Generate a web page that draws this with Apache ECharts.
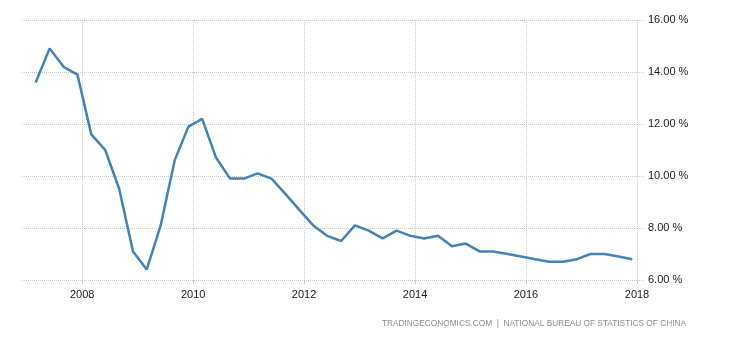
<!DOCTYPE html>
<html>
<head>
<meta charset="utf-8">
<style>
  html, body { margin: 0; padding: 0; background: #fff; }
  #chart { width: 730px; height: 340px; }
</style>
<script src="https://cdn.jsdelivr.net/npm/echarts@6/dist/echarts.min.js"></script>
</head>
<body>
<div id="chart"></div>
<script>
// China GDP annual growth rate, quarterly readings (percent)
const quarters = [
  '2007Q1','2007Q2','2007Q3','2007Q4',
  '2008Q1','2008Q2','2008Q3','2008Q4',
  '2009Q1','2009Q2','2009Q3','2009Q4',
  '2010Q1','2010Q2','2010Q3','2010Q4',
  '2011Q1','2011Q2','2011Q3','2011Q4',
  '2012Q1','2012Q2','2012Q3','2012Q4',
  '2013Q1','2013Q2','2013Q3','2013Q4',
  '2014Q1','2014Q2','2014Q3','2014Q4',
  '2015Q1','2015Q2','2015Q3','2015Q4',
  '2016Q1','2016Q2','2016Q3','2016Q4',
  '2017Q1','2017Q2','2017Q3','2017Q4'
];
const gdpGrowth = [
  13.6, 14.9, 14.2, 13.9,
  11.6, 11.0, 9.5, 7.1,
  6.4, 8.1, 10.6, 11.9,
  12.2, 10.7, 9.9, 9.9,
  10.1, 9.9, 9.3, 8.7,
  8.1, 7.7, 7.5, 8.1,
  7.9, 7.6, 7.9, 7.7,
  7.6, 7.7, 7.3, 7.4,
  7.1, 7.1, 7.0, 6.9,
  6.8, 6.7, 6.7, 6.8,
  7.0, 7.0, 6.9, 6.8
];
const yearTicks = [2008, 2010, 2012, 2014, 2016, 2018];
const yTicks = { min: 6, max: 16, step: 2 };
const sourceText = 'TRADINGECONOMICS.COM  |  NATIONAL BUREAU OF STATISTICS OF CHINA';

// each quarter is plotted on the first day of its last month (UTC timestamps)
function quarterDate(q) {
  const y = parseInt(q.slice(0, 4), 10);
  const n = parseInt(q.slice(5), 10);
  return Date.UTC(y, n * 3 - 1, 1);
}
const seriesData = quarters.map((q, i) => [quarterDate(q), gdpGrowth[i]]);
const yearStamps = yearTicks.map(y => Date.UTC(y, 0, 1));

const gridColor = '#c9c9c9';
const labelFont = 'Liberation Sans, Arial, sans-serif';
const chart = echarts.init(document.getElementById('chart'), null, { renderer: 'canvas' });
chart.setOption({
  animation: false,
  backgroundColor: '#ffffff',
  grid: { left: 22, right: 93, top: 20, bottom: 60, containLabel: false },
  xAxis: {
    type: 'value',
    min: Date.UTC(2006, 11, 1),
    max: Date.UTC(2018, 0, 1),
    axisLine: { show: false },
    axisTick: {
      show: true, length: 4, customValues: yearStamps,
      lineStyle: { color: gridColor, width: 1 }
    },
    axisLabel: {
      customValues: yearStamps,
      formatter: v => String(new Date(v).getUTCFullYear()),
      color: '#1a1a1a', fontSize: 11, fontFamily: labelFont,
      margin: 9, hideOverlap: false, showMinLabel: true, showMaxLabel: true
    },
    splitLine: {
      show: true,
      lineStyle: { color: gridColor, type: 'dotted', width: 1 }
    }
  },
  yAxis: {
    type: 'value',
    position: 'right',
    min: yTicks.min, max: yTicks.max, interval: yTicks.step,
    axisLine: { show: false },
    axisTick: { show: true, length: 8, lineStyle: { color: gridColor, type: 'dotted', width: 1 } },
    axisLabel: {
      formatter: v => v.toFixed(2) + ' %',
      color: '#1a1a1a', fontSize: 11, fontFamily: labelFont,
      margin: 11
    },
    splitLine: { show: true, lineStyle: { color: gridColor, type: 'dotted', width: 1 } }
  },
  series: [{
    type: 'line',
    data: seriesData,
    showSymbol: false,
    smooth: false,
    lineStyle: { color: '#4682b4', width: 2.5 },
    itemStyle: { color: '#4682b4' }
  }],
  graphic: [{
    type: 'text',
    right: 44,
    top: 320,
    style: {
      text: sourceText,
      fill: '#8c8c8c',
      font: '8.3px "Liberation Sans", Arial, sans-serif'
    }
  }]
});
</script>
</body>
</html>
